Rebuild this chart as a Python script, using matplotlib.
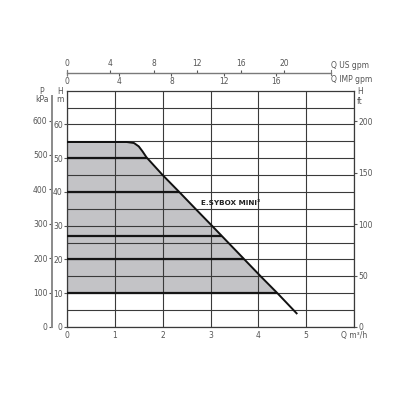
import numpy as np
import matplotlib
matplotlib.use('Agg')
import matplotlib.pyplot as plt

# pump curve (Q in m3/h, H in m)
q_curve = [0, 1.25, 1.40, 1.50, 1.58, 1.66, 2.0, 2.36, 2.7, 3.03, 3.37, 3.71, 4.05, 4.40, 4.80]
h_curve = [54.8, 54.8, 54.5, 53.5, 52.0, 50.3, 45, 39.8, 34.8, 30, 25, 20, 15, 10, 4.05]

h_marked = [10, 20, 27, 40, 50]     # darker lines inside the working area
h_floor = 10                        # bottom of the shaded area

q_ticks = [0, 1, 2, 3, 4, 5, 6]
q_labels = ['0', '1', '2', '3', '4', '5', 'Q m³/h']
h_ticks = [0, 10, 20, 30, 40, 50, 60]
p_ticks = [0, 100, 200, 300, 400, 500, 600]
ft_ticks = [0, 50, 100, 150, 200]
us_ticks = [0, 4, 8, 12, 16, 20]
imp_ticks = [0, 4, 8, 12, 16]
us_end = 24.3

M3H_TO_USGPM = 4.403
M3H_TO_IMPGPM = 3.666
M_TO_KPA = 9.81
M_TO_FT = 3.281

grid_col = '#3a3a3a'
txt_col = '#555555'
fs = 5.5

fig = plt.figure(figsize=(4.16, 4.16), dpi=100)
W = 416.0


def fx(px):
    return px / W


def fy(py):
    return 1 - py / W


ax = fig.add_axes([fx(67), fy(327), (354 - 67) / W, (327 - 90.7) / W])
ax.set_xlim(0, 6)
ax.set_ylim(0, 70)

# shaded working area
q = np.array(q_curve)
h = np.array(h_curve)
qq = np.linspace(0, np.interp(h_floor, h[::-1], q[::-1]), 200)
hh = np.interp(qq, q, h)
ax.fill_between(qq, h_floor, hh, color='#c3c3c6', lw=0, zorder=1)

# grid
ax.set_xticks(q_ticks)
ax.set_xticklabels(q_labels)
ax.set_yticks(h_ticks)
ax.set_yticks(np.arange(5, 70, 10), minor=True)
ax.grid(True, which='both', color=grid_col, lw=0.8, zorder=2)
ax.set_axisbelow(False)

for hm in h_marked:
    q_end = np.interp(hm, h[::-1], q[::-1])
    ax.plot([0, q_end], [hm, hm], color='#151515', lw=1.6, zorder=3,
            solid_capstyle='butt')

ax.plot(q, h, color='#111111', lw=1.4, zorder=4)

for s in ax.spines.values():
    s.set_color(grid_col)
    s.set_linewidth(0.9)

ax.tick_params(axis='x', length=0, pad=3, labelsize=fs, labelcolor=txt_col)
ax.tick_params(axis='y', which='major', length=2, pad=1, labelsize=fs,
               labelcolor=txt_col, color=txt_col)
ax.tick_params(axis='y', which='minor', length=0)

# right axis, feet
ax_ft = ax.secondary_yaxis('right', functions=(lambda m: m * M_TO_FT,
                                                lambda f: f / M_TO_FT))
ax_ft.set_yticks(ft_ticks)
ax_ft.tick_params(length=2, pad=1, labelsize=fs, labelcolor=txt_col, color=txt_col)
ax_ft.spines['right'].set_visible(False)

# left axis, kPa
ax_p = ax.secondary_yaxis(-0.053, functions=(lambda m: m * M_TO_KPA,
                                              lambda p: p / M_TO_KPA))
ax_p.set_yticks(p_ticks)
ax_p.tick_params(length=2, pad=1, labelsize=fs, labelcolor=txt_col, color=txt_col)
ax_p.spines['left'].set_color('#8a8a8a')
ax_p.spines['left'].set_linewidth(1.4)
ax_p.spines['left'].set_bounds(0, 68.5 * M_TO_KPA)

# top flow scales
loc = 1.077
ax_us = ax.secondary_xaxis(loc, functions=(lambda x: x * M3H_TO_USGPM,
                                            lambda g: g / M3H_TO_USGPM))
ax_us.set_xticks(us_ticks)
ax_us.tick_params(length=2, pad=1, labelsize=fs, labelcolor=txt_col, color=txt_col)
for s in ax_us.spines.values():
    s.set_visible(False)

ax_imp = ax.secondary_xaxis(loc, functions=(lambda x: x * M3H_TO_IMPGPM,
                                             lambda g: g / M3H_TO_IMPGPM))
ax_imp.set_alignment('bottom')
ax_imp.set_xticks(imp_ticks)
ax_imp.tick_params(length=2, pad=1, labelsize=fs, labelcolor=txt_col, color=txt_col)
for s in ax_imp.spines.values():
    s.set_visible(False)

q_us_end = us_end / M3H_TO_USGPM
tr = ax.get_xaxis_transform()
ax.plot([0, q_us_end], [loc, loc], transform=tr, clip_on=False,
        color='#7a7a7a', lw=1.0)
for xe in [0, q_us_end]:
    ax.plot([xe, xe], [loc - 0.012, loc + 0.012], transform=tr,
            clip_on=False, color='#7a7a7a', lw=0.8)

# axis names
kw = dict(fontsize=fs, color=txt_col, ha='center', va='center')
fig.text(fx(42), fy(91), 'P', **kw)
fig.text(fx(42), fy(100), 'kPa', **kw)
fig.text(fx(60), fy(91), 'H', **kw)
fig.text(fx(60), fy(99.5), 'm', **kw)
fig.text(fx(360), fy(92), 'H', **kw)
fig.text(fx(360), fy(101), 'ft', **kw)
fig.text(fx(331), fy(65), 'Q US gpm', fontsize=fs, color=txt_col,
         ha='left', va='center')
fig.text(fx(331), fy(79), 'Q IMP gpm', fontsize=fs, color=txt_col,
         ha='left', va='center')

ax.text(2.8, 36.7, 'E.SYBOX MINI³', fontsize=5.2, fontweight='bold',
        color='#222222', ha='left', va='center',
        family=['Liberation Sans Narrow', 'DejaVu Sans'], zorder=5)

fig.savefig('out.png', dpi=100)
